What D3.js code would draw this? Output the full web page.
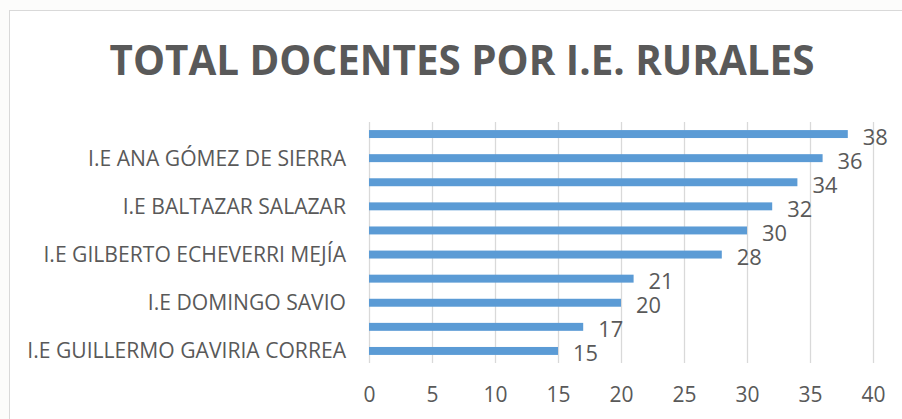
<!DOCTYPE html>
<html>
<head>
<meta charset="utf-8">
<script src="https://cdn.jsdelivr.net/npm/d3@7"></script>
<style>
  html, body { margin: 0; padding: 0; background: #fcfcfb; }
  svg { display: block; }
  text { font-family: "Open Sans", "Liberation Sans", sans-serif; fill: #595959; }
</style>
</head>
<body>
<svg id="chart" width="902" height="419"></svg>
<script>
// ---- data ----
const title = "TOTAL DOCENTES POR I.E. RURALES";
// top-to-bottom order; Excel skipped every other axis label, so hidden ones are blank
const categories = ["", "I.E ANA GÓMEZ DE SIERRA", "", "I.E BALTAZAR SALAZAR", "",
                    "I.E GILBERTO ECHEVERRI MEJÍA", "", "I.E DOMINGO SAVIO", "", "I.E GUILLERMO GAVIRIA CORREA"];
const values = [38, 36, 34, 32, 30, 28, 21, 20, 17, 15];
const xTicks = [0, 5, 10, 15, 20, 25, 30, 35, 40];

// ---- layout ----
const svg = d3.select("#chart");
const W = 902, H = 419;
const plot = { left: 369, right: 873, top: 122, bottom: 363 };

svg.append("rect").attr("x", 9).attr("y", 10).attr("width", W).attr("height", H).attr("fill", "#ffffff");
svg.append("line").attr("x1", 9.5).attr("x2", 9.5).attr("y1", 10).attr("y2", H).attr("stroke", "#d9d9d9");
svg.append("line").attr("x1", 9).attr("x2", W).attr("y1", 10.5).attr("y2", 10.5).attr("stroke", "#d9d9d9");

const x = d3.scaleLinear().domain([0, 40]).range([plot.left, plot.right]);
const idx = d3.range(values.length);
const y = d3.scaleBand().domain(idx).range([plot.top, plot.bottom]).paddingInner(0.67).paddingOuter(0.335);

function fit(sel, size, target) {
  sel.attr("font-size", size);
  const w = sel.node().getComputedTextLength();
  return size * target / w;
}

// gridlines
svg.append("g").selectAll("line").data(xTicks).join("line")
  .attr("x1", d => Math.round(x(d)) + 0.5).attr("x2", d => Math.round(x(d)) + 0.5)
  .attr("y1", plot.top).attr("y2", plot.bottom)
  .attr("stroke", "#d9d9d9").attr("stroke-width", 1.3);

// x axis tick labels
const xAxis = d3.axisBottom(x).tickValues(xTicks).tickSize(0).tickPadding(0);
const gx = svg.append("g").attr("transform", `translate(0,${plot.bottom})`).call(xAxis);
gx.select(".domain").remove();
gx.attr("font-size", null).attr("font-family", null);
const tickTexts = gx.selectAll("text");
const tickSize = fit(tickTexts.filter(d => d === 40), 20, 24);
tickTexts.attr("font-size", tickSize).attr("dy", null).attr("y", 38.5)
  .style("font-family", '"Open Sans", sans-serif').attr("fill", "#595959");

// bars
svg.append("g").selectAll("rect").data(values).join("rect")
  .attr("x", x(0)).attr("y", (d, i) => y(i))
  .attr("width", d => x(d) - x(0)).attr("height", y.bandwidth())
  .attr("fill", "#5b9bd5");

// value labels
const vals = svg.append("g").selectAll("text").data(values).join("text")
  .attr("x", d => x(d) + 15).attr("y", (d, i) => y(i) + y.bandwidth() / 2 + 2)
  .attr("dominant-baseline", "central")
  .attr("fill", "#404040")
  .text(d => d);
const valSize = fit(vals.filter((d, i) => i === 0), 20, 25);
vals.attr("font-size", valSize);

// category labels
const yAxis = d3.axisLeft(y).tickFormat(i => categories[i]).tickSize(0).tickPadding(0);
const gy = svg.append("g").attr("transform", `translate(346,0)`).call(yAxis);
gy.select(".domain").remove();
gy.attr("font-size", null).attr("font-family", null);
const catTexts = gy.selectAll("text").attr("x", 0).attr("dy", "0.35em")
  .style("font-family", '"Open Sans", sans-serif').attr("fill", "#595959");
const catSize = fit(catTexts.filter(i => i === 9), 20, 319);
catTexts.attr("font-size", catSize);

// title
const t = svg.append("text").attr("x", 462).attr("y", 75).attr("text-anchor", "middle")
  .attr("font-weight", "bold").text(title);
t.attr("font-size", fit(t, 44, 705));
</script>
</body>
</html>
